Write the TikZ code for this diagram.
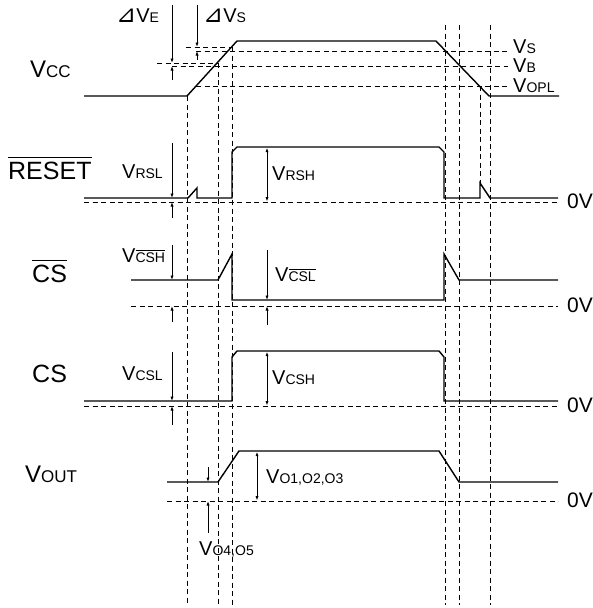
\documentclass[tikz,border=0pt]{standalone}
\usepackage{fontspec}
\setmainfont{Liberation Sans}
\newfontfamily\symfont{DejaVu Sans}
\usetikzlibrary{arrows.meta}
\newcommand\ovl[2][1.5pt]{\leavevmode\setbox0\hbox{#2}\rlap{\raisebox{\dimexpr\ht0+#1\relax}{\rule{\wd0}{0.8pt}}}\box0}
\newcommand\Vl[1]{{\fontsize{20}{20}\selectfont V}{\fontsize{14}{14}\selectfont #1}}
\newcommand\Vrow[1]{{\fontsize{24}{24}\selectfont V}{\fontsize{17}{17}\selectfont #1}}
\newcommand\tri{{\symfont\fontsize{24}{24}\selectfont ⊿}}
\begin{document}
\begin{tikzpicture}[x=1pt,y=-1pt,
  wave/.style={line width=1.4pt, line join=miter},
  guide/.style={line width=0.9pt, dash pattern=on 5pt off 3.5pt},
  dim/.style={line width=0.9pt},
  tip/.style={-{Latex[length=4.5pt,width=3.2pt]}},
  dtip/.style={{Latex[length=4.5pt,width=3.2pt]}-{Latex[length=4.5pt,width=3.2pt]}},
  lbl/.style={inner sep=0pt, anchor=base west},
  rowlbl/.style={inner sep=0pt, anchor=base west, font=\fontsize{25}{25}\selectfont},
  zero/.style={inner sep=0pt, anchor=base west, font=\fontsize{21}{21}\selectfont}]
\useasboundingbox (0,0) rectangle (593,608);

% ---------- vertical guides ----------
\draw[guide] (187,96) -- (187,605);
\draw[guide] (218,63) -- (218,605);
\draw[guide] (232,47) -- (232,605);
\draw[guide] (445,25) -- (445,605);
\draw[guide] (459,25) -- (459,605);
\draw[guide] (490,25) -- (490,605);
\draw[guide] (480,86) -- (480,183);

% ---------- VCC ----------
\draw[guide] (186,47) -- (232,47);
\draw[guide] (196,51) -- (508,51);
\draw[guide] (157,63) -- (218,63);
\draw[guide] (172,66) -- (508,66);
\draw[guide] (196,86) -- (508,86);
\draw[wave] (84,96) -- (187,96) -- (237,41) -- (436,41) -- (489,96) -- (559,96);
\draw[dim,tip] (172,5) -- (172,63);
\draw[dim,tip] (172,80) -- (172,66);
\draw[dim,tip] (197,5) -- (197,47);
\draw[dim,tip] (197,60) -- (197,51);
\node[rowlbl] (lvcc) at (30,77) {\Vrow{CC}};
\node[lbl] (dve) at (116,22) {\tri\Vl{E}};
\node[lbl] (dvs) at (203,22) {\tri\Vl{S}};
\node[lbl] (vs) at (513,53) {\Vl{S}};
\node[lbl] (vb) at (513,72) {\Vl{B}};
\node[lbl] (vopl) at (513,92) {\Vl{OPL}};

% ---------- RESET bar ----------
\draw[guide] (84,202) -- (558,202);
\draw[wave] (84,198) -- (188,198) -- (197,188) -- (197,198) -- (232,198) -- (232,152) -- (237,147)
  -- (439,147) -- (444,152) -- (444,198) -- (480,198) -- (480,183) -- (490,198) -- (558,198);
\draw[dim,tip] (172,143) -- (172,198);
\draw[dim,tip] (172,218) -- (172,202);
\draw[dim,dtip] (267,147.7) -- (267,201.5);
\node[rowlbl] (lrst) at (8,179) {\ovl[4pt]{RESET}};
\node[lbl] (vrsl) at (122,178) {\Vl{RSL}};
\node[lbl] (vrsh) at (272,180) {\Vl{RSH}};
\node[zero] (z1) at (567,208) {0V};

% ---------- CS bar ----------
\draw[guide] (131,306) -- (558,306);
\draw[wave] (131,280) -- (218,280) -- (232,254) -- (232,300) -- (444,300) -- (444,254) -- (459,280) -- (558,280);
\draw[dim,tip] (172,245) -- (172,280);
\draw[dim,tip] (172,322) -- (172,306);
\draw[dim,tip] (267,250) -- (267,300);
\draw[dim,tip] (267,325) -- (267,306);
\node[rowlbl] (lcsb) at (32,282) {\ovl[4pt]{CS}};
\node[lbl] (vcshb) at (122,262) {{\fontsize{20}{20}\selectfont V}{\fontsize{14}{14}\selectfont\ovl{CSH}}};
\node[lbl] (vcslb) at (275,281) {{\fontsize{20}{20}\selectfont V}{\fontsize{14}{14}\selectfont\ovl{CSL}}};
\node[zero] (z2) at (567,312) {0V};

% ---------- CS ----------
\draw[guide] (84,406) -- (558,406);
\draw[wave] (84,401) -- (232,401) -- (232,357) -- (237,351) -- (439,351) -- (444,357) -- (444,401) -- (558,401);
\draw[dim,tip] (172,352) -- (172,401);
\draw[dim,tip] (172,425) -- (172,406);
\draw[dim,dtip] (267,351.7) -- (267,405.5);
\node[rowlbl] (lcs) at (32,382) {CS};
\node[lbl] (vcsl) at (122,380) {\Vl{CSL}};
\node[lbl] (vcsh) at (272,384) {\Vl{CSH}};
\node[zero] (z3) at (567,412) {0V};

% ---------- VOUT ----------
\draw[guide] (167,501) -- (558,501);
\draw[wave] (167,482) -- (218,482) -- (239,451) -- (439,451) -- (459,482) -- (558,482);
\draw[dim,tip] (208,467) -- (208,482);
\draw[dim,tip] (208,533) -- (208,501);
\draw[dim,dtip] (257,451.7) -- (257,500.5);
\node[rowlbl] (lvout) at (25,482) {\Vrow{OUT}};
\node[lbl] (vo45) at (199,555) {\Vl{O4,O5}};
\node[lbl] (vo123) at (266,483) {\Vl{O1,O2,O3}};
\node[zero] (z4) at (567,507) {0V};
\end{tikzpicture}
\end{document}
